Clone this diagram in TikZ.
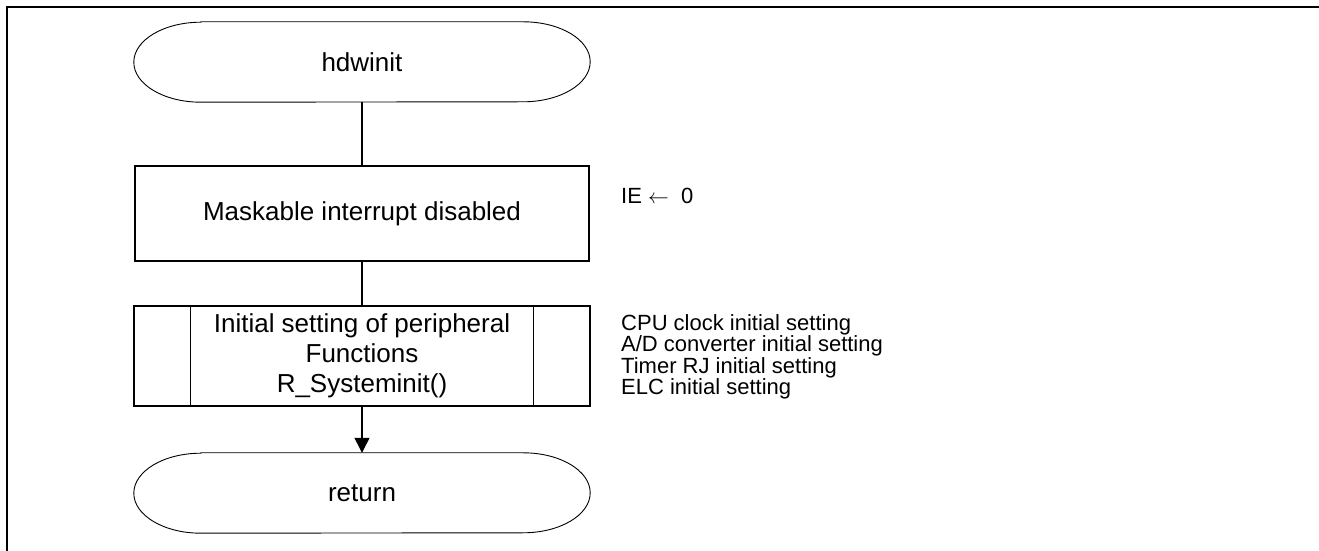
\documentclass[tikz,border=0pt]{standalone}
\usepackage{fontspec}
\setmainfont{Liberation Sans}
\usetikzlibrary{arrows.meta, positioning, calc}

\begin{document}
\begin{tikzpicture}[x=1pt, y=1pt, >={Triangle[length=15pt, width=15pt]},
  term/.style={minimum width=456pt, minimum height=80pt, inner sep=0pt, font=\fontsize{26}{30}\selectfont},
  procbox/.style={draw, line width=1.3pt, minimum width=454pt, inner sep=0pt, align=center, font=\fontsize{26}{30}\selectfont},
  note/.style={align=left, inner sep=0pt, font=\fontsize{22}{17.6}\selectfont},
  flow/.style={line width=1.3pt}]

\useasboundingbox (0,0) rectangle (1319,551);

% Frame
\draw[line width=2.4pt] (7,0) -- (7,544) -- (1319,544);

% Flow
\node[term] (start) at (362,489) {hdwinit};
\node[procbox, minimum height=95pt] (mask) at (362,337.5) {Maskable interrupt disabled};
\node[procbox, minimum height=100pt, minimum width=456pt] (init) at (362,195)
  {Initial setting of peripheral\\Functions\\R\_Systeminit()};
\node[term] (ret) at (362,58) {return};

% terminal outlines
\foreach \t in {start, ret} {
  \draw[line width=0.9pt] ([xshift=67pt]\t.north west) -- ([xshift=-67pt]\t.north east)
    arc[start angle=90, end angle=-90, x radius=67pt, y radius=40pt]
    -- ([xshift=67pt]\t.south west)
    arc[start angle=270, end angle=90, x radius=67pt, y radius=40pt] -- cycle;
}

% subroutine side bars
\draw[flow] ([xshift=57pt]init.north west) -- ([xshift=57pt]init.south west);
\draw[flow] ([xshift=-57pt]init.north east) -- ([xshift=-57pt]init.south east);

% Connectors
\draw[flow] (start) -- (mask);
\draw[flow] (mask) -- (init);
\draw[flow, ->] (init) -- (ret);

% Notes
\node[note, anchor=west] (ienote) at (621,355) {IE $\leftarrow$\ \ 0};
\node[note, anchor=north west] (initnote) at (621,237)
  {CPU clock initial setting\\A/D converter initial setting\\Timer RJ initial setting\\ELC initial setting};

\end{tikzpicture}
\end{document}
